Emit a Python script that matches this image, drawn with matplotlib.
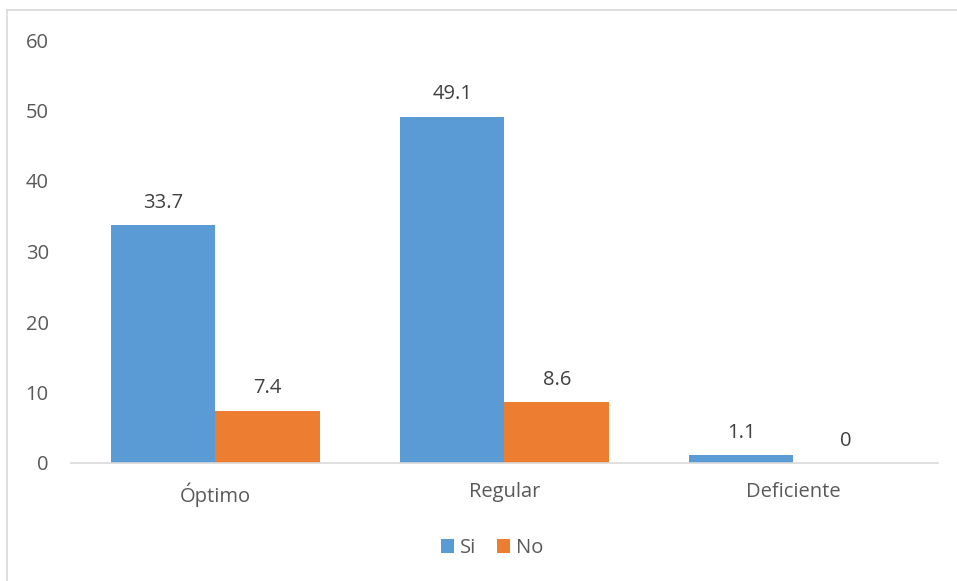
import matplotlib
matplotlib.use('Agg')
import matplotlib.pyplot as plt
import numpy as np
from matplotlib.lines import Line2D

# data
kategori = ['Óptimo', 'Regular', 'Deficiente']
nilai_si = [33.7, 49.1, 1.1]
nilai_no = [7.4, 8.6, 0]
label_seri = ['Si', 'No']
y_ticks = [0, 10, 20, 30, 40, 50, 60]

plt.rcParams['font.family'] = ['Open Sans', 'DejaVu Sans']
warna_teks = '#595959'
ukuran = 14.5

fig = plt.figure(figsize=(9.57, 5.81), dpi=100)
ax = fig.add_axes([71 / 957, 1 - 463 / 581, (938 - 71) / 957, (463 - 40) / 581])

x = np.arange(len(kategori))
lebar = 0.362
b1 = ax.bar(x - lebar / 2, nilai_si, lebar, color='#5B9BD5', label=label_seri[0])
b2 = ax.bar(x + lebar / 2, nilai_no, lebar, color='#ED7D31', label=label_seri[1])

for bars in (b1, b2):
    ax.bar_label(bars, labels=[f'{v:g}' for v in bars.datavalues], padding=9,
                 fontsize=ukuran, color='#404040')

ax.set_xlim(-0.5, 2.5)
ax.set_ylim(0, 60)
ax.set_yticks(y_ticks)
ax.set_xticks(x)
ax.set_xticklabels(kategori)
ax.tick_params(axis='y', length=0, pad=16, labelsize=ukuran, labelcolor=warna_teks)
ax.tick_params(axis='x', length=0, pad=14, labelsize=ukuran, labelcolor=warna_teks)

for s in ['top', 'right', 'left']:
    ax.spines[s].set_visible(False)
ax.spines['bottom'].set_color('#D9D9D9')
ax.spines['bottom'].set_linewidth(1.2)

leg = fig.legend(loc='center', bbox_to_anchor=(492 / 957, 1 - 548 / 581), ncol=2,
                 frameon=False, fontsize=ukuran, handlelength=0.65, handleheight=0.65,
                 handletextpad=0.3, columnspacing=1.0, labelcolor=warna_teks)

# bingkai tipis kiri dan atas
fig.add_artist(Line2D([7 / 957, 7 / 957], [0, 1 - 10 / 581], color='#D9D9D9', lw=1.2,
                      transform=fig.transFigure))
fig.add_artist(Line2D([7 / 957, 1], [1 - 10 / 581, 1 - 10 / 581], color='#D9D9D9', lw=1.2,
                      transform=fig.transFigure))

fig.savefig('out.png', dpi=100, facecolor='white')
